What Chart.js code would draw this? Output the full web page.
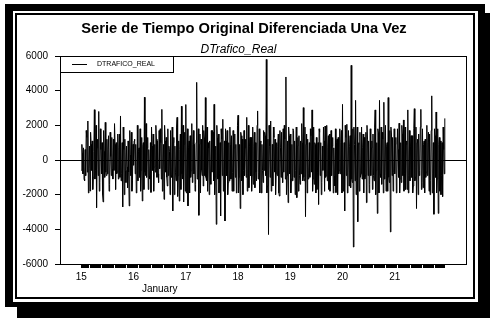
<!DOCTYPE html>
<html>
<head>
<meta charset="utf-8">
<script src="https://cdn.jsdelivr.net/npm/chart.js@4.4.0/dist/chart.umd.min.js"></script>
<style>
    html, body { margin: 0; padding: 0; background: #fff; }
    canvas { display: block; }
</style>
</head>
<body>
<canvas id="chart" width="490" height="318"></canvas>
<script>
"use strict";

const FONT = "'Liberation Sans', Arial, sans-serif";

// first difference of 15-minute traffic, 15 jan 00:00 -> 21 jan 23:00 (one row = 6 hours)
const dtrafico = [
    -600, 900, 400, -800, 700, -1100, -1200, 600, -900, 1700, 1300, -700, 2250, -1900, -500, 800, -1790, 1600, 900, -600, 1100, -1700, -1000, 500,
    2900, -1100, -600, 2000, -2750, 700, 1200, -900, 2800, -1800, -1300, 1800, 600, -800, 1000, -2000, -2420, 1700, 500, -1000, 2170, -700, -900, 1200,
    -800, 600, 1400, -1800, -1400, 1600, 200, -900, 1300, -500, -1100, 1200, -600, 2100, 900, -1700, 1000, -800, -700, 1500, -1100, 700, 1500, -1000,
    2540, -1200, -800, 1000, -2710, 1900, 600, -2000, 1200, -600, -1300, 800, -400, -1600, 1100, -700, -2650, 1700, 300, -900, 1600, -1800, -1200, 900,
    -300, 1100, 1200, -800, 900, -1900, -1500, 2000, -1200, 500, 700, -1000, 1800, -1800, -600, 1300, -2365, 800, 1000, -1700, 3620, -700, -900, 2100,
    -1000, 700, 1300, -1700, 600, -900, -1100, 1000, -1870, 1900, 800, -600, 1500, -1800, -400, 900, -700, 2000, 1200, -1000, 1100, -800, -1300, 1700,
    -500, 1800, 1000, -1100, 2920, -1800, -700, 900, -2270, 2000, 1100, -700, 1300, -1000, -1500, 1800, -900, 800, 500, -2000, 1700, -900, -1000, 1900,
    -2940, 1000, 1300, -2000, 800, -700, -1200, 1900, 2460, -2100, -900, 1100, -2370, 600, 1500, -1700, 3100, -800, -1100, 2000, -2420, 900, 1600, -1800,
    3200, -1900, -800, 1800, -2650, 700, 1100, -1900, 1400, -1000, -600, 2100, -1300, 900, 1700, -800, 900, -1800, -1400, 1000, 4480, -1100, -1000, 1800,
    -3190, 900, 1500, -1900, 1200, -600, -900, 2000, -1500, 1700, 1300, -900, 3600, -1000, -1200, 1900, -1800, 1000, 700, -2000, 1100, -700, -1400, 1700,
    -700, 1700, 1600, -1200, 3210, -2000, -1000, 800, -3710, 2000, 1300, -1100, 1500, -1900, -800, 1000, -3230, 1800, 1200, -900, 2350, -1800, -1500, 1100,
    -3520, 1800, 1100, -900, 1700, -2000, -1300, 1000, -1200, 1900, 900, -1100, 1400, -1800, -700, 1700, -1800, 700, 1500, -1000, 900, -1900, -1100, 2000,
    2580, -1900, -1000, 900, -2800, 1600, 1400, -1200, 1200, -2000, -600, 1700, -900, 700, 1200, -1000, 2460, -1800, -800, 2000, -1600, 800, 1300, -900,
    1300, -1800, -900, 1900, -1400, 800, 1600, -1600, 1000, -700, -1200, 2000, 2830, -1100, -700, 1800, -1900, 1000, 1100, -1900, 900, -600, -1300, 1700,
    -600, 1600, 1400, -900, 5800, -1900, -1500, 1200, -4300, 2000, 800, -1000, 2250, -1800, -1100, 900, -1500, 1900, 1300, -700, 1200, -2000, -800, 1000,
    -900, 800, 1500, -1900, -2080, 1700, 700, -1000, 1600, -700, -1300, 1800, -700, 2000, 1200, -1100, 4790, -2000, -900, 1100, -2460, 1900, 1400, -800,
    1500, -1900, -1100, 900, -1200, 1800, 1700, -1000, 1100, -2000, -600, 1900, -2170, 800, 1300, -1800, 1400, -900, -1400, 1100, -800, 2100, 1000, -1200,
    3020, -1000, -1200, 1900, -3270, 900, 1500, -1900, 1200, -1100, -800, 1000, -1000, 1800, 1400, -700, 2890, -1800, -1100, 1900, -1400, 1000, 900, -1900,
    1300, -1700, -700, 1000, -2560, 1800, 1600, -900, 1000, -2000, -1300, 800, -600, 1900, 1100, -1800, 1960, -1000, -900, 2000, -1200, 700, 1400, -1700,
    1500, -1800, -1000, 1700, -900, 800, 1300, -1900, 700, -900, -1500, 1800, -1880, 1000, 1200, -2000, 1300, -800, -600, 1800, -800, 1000, 1700, -1900,
    3210, -1800, -1100, 1000, -2940, 2000, 1300, -900, 2060, -1900, -700, 1700, -1500, 800, 1400, -1600, 5460, -1100, -1300, 1800, -5020, 1900, 900, -1200,
    3440, -2000, -1200, 1900, -3560, 900, 1000, -1800, 1600, -1000, -800, 1900, -1100, 700, 1500, -1900, 1300, -1100, -900, 1600, -2460, 2000, 1200, -900,
    1100, -1900, -1400, 1800, -900, 700, 1100, -1700, 1500, -900, -1200, 1900, 2890, -2000, -600, 1000, -3080, 1800, 1600, -1900, 3440, -800, -1000, 1900,
    -1400, 1600, 1200, -1900, 3330, -1100, -900, 2000, -1800, 800, 1000, -1800, 3600, -1000, -1300, 1700, -4150, 1900, 1500, -900, 1300, -1800, -700, 1800,
    -800, 900, 1300, -1900, -1000, 1800, 600, -1000, 2120, -1900, -1100, 1000, -1300, 2000, 1500, -900, 2310, -1800, -800, 1900, -1700, 900, 1100, -1700,
    2890, -1900, -900, 1700, -1200, 800, 1400, -1000, 1400, -1900, -1500, 1800, 2960, -1200, -1000, 1900, -2800, 1000, 1200, -2000, 1500, -900, -600, 1900,
    2920, -1700, -1300, 1800, -1600, 900, 1100, -1900, 1200, -1000, -700, 2000, -900, 1000, 1600, -1800, 1500, -2000, -1200, 1700, 3700, -1900, -800, 1000,
    -3130, 1800, 1400, -1000, 2770, -1900, -1100, 1800, -3080, 900, 1300, -1800, 1100, -2000, -900, 1000, -2110, 1900, 600, -800, 2400
];
const steps = dtrafico.map((v, i) => i);
const STEPS_PER_DAY = 96;
const dayLabels = ['15', '16', '17', '18', '19', '20', '21'];
const yTicks = [-6000, -4000, -2000, 0, 2000, 4000, 6000];

const chartTitle = 'Serie de Tiempo Original Diferenciada Una Vez';
const chartSubtitle = 'DTrafico_Real';
const seriesName = 'DTRAFICO_REAL';
const monthName = 'January';

// frame, box, legend and texts
const framePlugin = {
    id: 'frame',
    beforeDraw: (chart) => {
        const ctx = chart.ctx;
        ctx.save();
        ctx.fillStyle = '#fff';
        ctx.fillRect(0, 0, 490, 318);
        ctx.fillStyle = '#000';
        ctx.fillRect(5, 4, 480, 303);
        ctx.fillRect(17, 13, 473, 305);
        ctx.fillStyle = '#fff';
        ctx.fillRect(13, 11, 465, 291);
        ctx.strokeStyle = '#000';
        ctx.lineWidth = 2;
        ctx.strokeRect(16, 14, 458, 284);
        ctx.restore();
    },
    afterDraw: (chart) => {
        const ctx = chart.ctx;
        const {left, top, right, bottom} = chart.chartArea;
        ctx.save();

        // plot box
        ctx.strokeStyle = '#000';
        ctx.lineWidth = 1;
        ctx.strokeRect(left + 0.5, top + 0.5, right - left - 1, bottom - top);

        // legend
        ctx.fillStyle = '#fff';
        ctx.fillRect(left + 1, top + 1, 112, 16);
        ctx.strokeRect(left + 0.5, top + 0.5, 113, 16);
        ctx.beginPath();
        ctx.moveTo(left + 12, top + 8.5);
        ctx.lineTo(left + 27, top + 8.5);
        ctx.stroke();
        ctx.fillStyle = '#000';
        ctx.font = '7px ' + FONT;
        ctx.textAlign = 'left';
        ctx.textBaseline = 'middle';
        ctx.fillText(chart.data.datasets[0].label, left + 37, top + 8.5);

        // titles
        ctx.textAlign = 'center';
        ctx.textBaseline = 'alphabetic';
        ctx.font = 'bold 14.7px ' + FONT;
        ctx.fillText(chartTitle, 244, 33);
        ctx.font = 'italic 12px ' + FONT;
        ctx.fillText(chartSubtitle, 238.5, 53);

        // month under the day labels
        const xScale = chart.scales.x;
        ctx.font = '10px ' + FONT;
        ctx.fillText(monthName, xScale.getPixelForValue(1.5 * STEPS_PER_DAY), 291.5);

        ctx.restore();
    }
};

const config = {
    type: 'line',
    data: {
        labels: steps,
        datasets: [{
            label: seriesName,
            data: dtrafico,
            borderColor: '#000',
            borderWidth: 1,
            pointRadius: 0,
            tension: 0,
            fill: false
        }]
    },
    options: {
        responsive: false,
        animation: false,
        devicePixelRatio: 1,
        events: [],
        layout: {
            padding: { left: 20, right: 23, top: 56, bottom: 34 }
        },
        plugins: {
            legend: { display: false },
            title: { display: false },
            tooltip: { enabled: false }
        },
        scales: {
            x: {
                type: 'linear',
                min: -39.2,
                max: 708.8,
                afterBuildTicks: (scale) => {
                    // one mark per half hour
                    scale.ticks = steps.filter(v => v % 2 === 0).map(v => ({ value: v }));
                },
                afterFit: (scale) => {
                    scale.height = 20;
                },
                border: { display: false },
                grid: {
                    drawOnChartArea: false,
                    drawTicks: true,
                    tickLength: 4,
                    tickColor: '#000',
                    tickWidth: 1
                },
                ticks: {
                    autoSkip: false,
                    maxRotation: 0,
                    padding: 3,
                    color: '#000',
                    font: { family: FONT, size: 10 },
                    callback: (value) => (value % STEPS_PER_DAY === 0) ? dayLabels[value / STEPS_PER_DAY] : ''
                }
            },
            y: {
                min: -6000,
                max: 6000,
                afterBuildTicks: (scale) => {
                    scale.ticks = yTicks.map(v => ({ value: v }));
                },
                afterFit: (scale) => {
                    scale.width = 40;
                },
                border: { display: false },
                grid: {
                    color: (ctx) => (ctx.tick && ctx.tick.value === 0) ? '#000' : 'rgba(0,0,0,0)',
                    lineWidth: 1,
                    drawTicks: true,
                    tickLength: 5,
                    tickColor: '#000'
                },
                ticks: {
                    padding: 7,
                    color: '#000',
                    font: { family: FONT, size: 10 },
                    callback: (value) => String(value)
                }
            }
        }
    },
    plugins: [framePlugin]
};

// create chart
new Chart(document.getElementById('chart'), config);
</script>
</body>
</html>
